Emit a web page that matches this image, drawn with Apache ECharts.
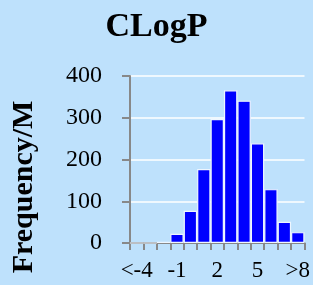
<!DOCTYPE html>
<html>
<head>
<meta charset="utf-8">
<script src="https://cdn.jsdelivr.net/npm/echarts@6/dist/echarts.min.js"></script>
<style>
  html, body { margin: 0; padding: 0; background: #bee1fc; }
  #chart { width: 313px; height: 285px; }
</style>
</head>
<body>
<div id="chart"></div>
<script>
// CLogP 分布
const categories = ['<-4', '-3', '-2', '-1', '0', '1', '2', '3', '4', '5', '6', '7', '>8'];
const frequency = [0, 0, 3, 22, 77, 177, 297, 366, 341, 239, 129, 51, 26];
const yTicks = [0, 100, 200, 300, 400];

const serif = '"Liberation Serif", "DejaVu Serif", serif';

const chart = echarts.init(document.getElementById('chart'));
chart.setOption({
  backgroundColor: '#bee1fc',
  animation: false,
  title: {
    text: 'CLogP',
    left: 'center',
    top: 5,
    textStyle: { fontFamily: serif, fontWeight: 'bold', fontSize: 34, color: '#000' }
  },
  // 纵轴标题（偏下放置，与原图一致）
  graphic: [{
    type: 'text',
    x: 24,
    y: 187,
    rotation: Math.PI / 2,
    style: {
      text: 'Frequency/M',
      fontFamily: serif,
      fontWeight: 'bold',
      fontSize: 30,
      fill: '#000',
      align: 'center',
      verticalAlign: 'middle'
    }
  }],
  grid: { left: 130, right: 8, top: 76, bottom: 42 },
  xAxis: {
    type: 'category',
    data: categories,
    boundaryGap: true,
    axisLine: { lineStyle: { color: '#888', width: 2 } },
    axisTick: { show: true, interval: 0, length: 7, lineStyle: { color: '#888', width: 2 } },
    axisLabel: {
      interval: 2,
      margin: 16,
      fontFamily: serif,
      fontSize: 23,
      color: '#000'
    }
  },
  yAxis: {
    type: 'value',
    min: yTicks[0],
    max: yTicks[yTicks.length - 1],
    interval: 100,
    axisLine: { show: true, lineStyle: { color: '#888', width: 2 } },
    axisTick: { show: true, length: 8, lineStyle: { color: '#888', width: 2 } },
    axisLabel: { margin: 28, fontFamily: serif, fontSize: 24, color: '#000' },
    splitLine: { show: true, lineStyle: { color: '#ffffff', width: 1.5 } }
  },
  series: [{
    type: 'bar',
    data: frequency,
    barCategoryGap: 0,
    itemStyle: { color: '#0000ff', borderColor: '#eef6ff', borderWidth: 1.2 }
  }]
});
</script>
</body>
</html>
